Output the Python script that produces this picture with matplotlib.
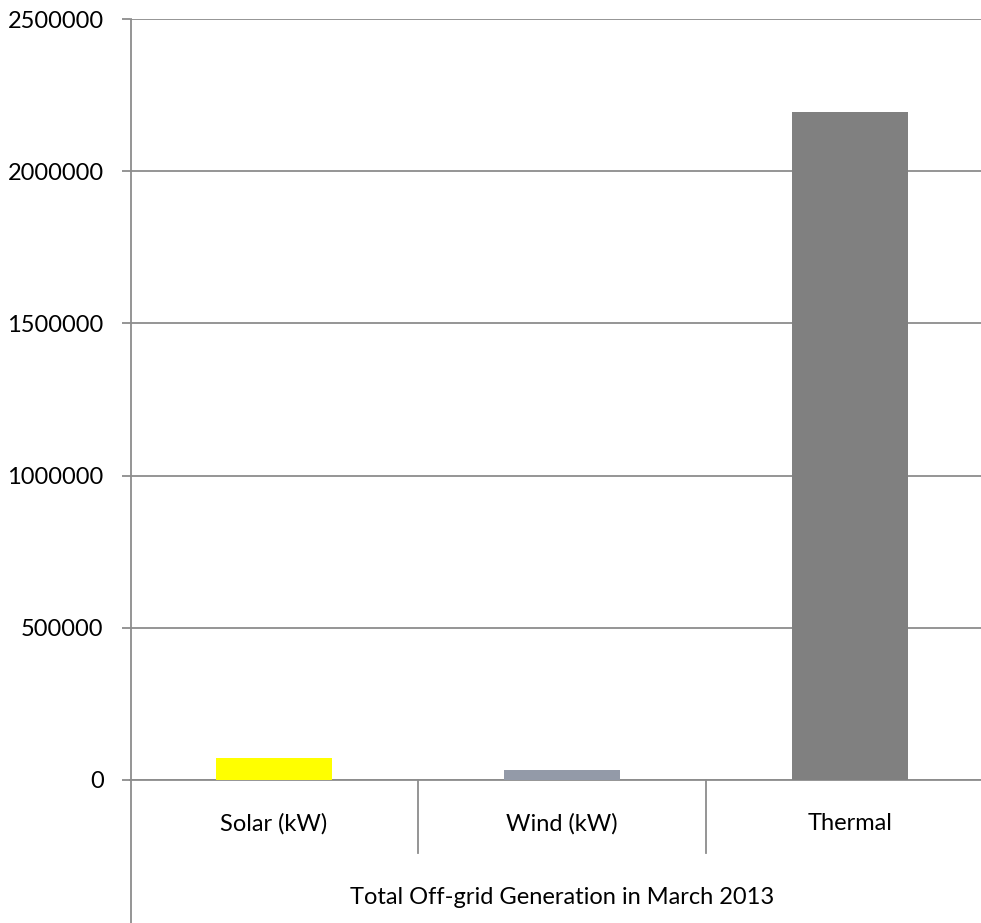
import numpy as np
import matplotlib.pyplot as plt
from matplotlib.lines import Line2D

categories = ['Solar (kW)', 'Wind (kW)', 'Thermal']
values = [72000, 33000, 2193000]
colors = ['#FFFF00', '#939AA8', '#808080']
group_label = 'Total Off-grid Generation in March 2013'
yticks = [0, 500000, 1000000, 1500000, 2000000, 2500000]

plt.rcParams['font.family'] = ['Lato', 'DejaVu Sans']
W, H = 981, 923
fig = plt.figure(figsize=(W / 100, H / 100), dpi=100)
# axes extends a little past the right edge, like the source
ax = fig.add_axes([130 / W, 1 - 780 / H, 864 / W, (780 - 19) / H])

x = np.arange(len(categories))
ax.bar(x, values, width=0.4, color=colors, zorder=3)

gray = '#8c8c8c'
fs = 17
ax.set_xlim(-0.5, 2.5)
ax.set_ylim(0, 2500000)
ax.set_yticks(yticks)
ax.set_yticklabels([str(v) for v in yticks])
ax.yaxis.grid(True, color=gray, linewidth=1.3)
ax.set_axisbelow(True)
ax.tick_params(axis='y', length=6, width=1.3, color=gray, pad=13, labelsize=fs)

ax.set_xticks(x)
ax.set_xticklabels(categories)
ax.tick_params(axis='x', length=0, pad=24, labelsize=fs)

# category dividers hanging below the zero line
for b in x[:-1] + 0.5:
    ax.plot([b, b], [0, -73 / 761], transform=ax.get_xaxis_transform(),
            color=gray, linewidth=1.3, clip_on=False)

for s in ['top', 'right', 'left']:
    ax.spines[s].set_visible(False)
ax.spines['bottom'].set_color(gray)
ax.spines['bottom'].set_linewidth(1.3)

# value axis line runs down through the category labels to the bottom
fig.add_artist(Line2D([130.5 / W, 130.5 / W], [0, 1 - 19 / H],
                      color=gray, linewidth=1.3))

fig.text(562 / W, 1 - 904 / H, group_label, ha='center', va='baseline', fontsize=fs)

fig.savefig('out.png', dpi=100)
